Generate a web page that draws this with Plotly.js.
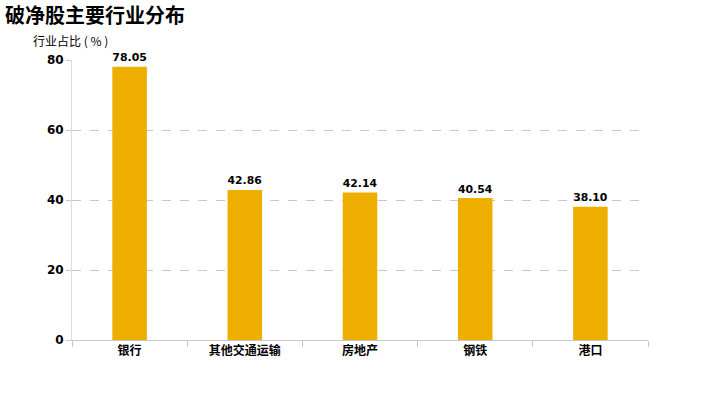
<!DOCTYPE html>
<html><head><meta charset="utf-8">
<script src="https://cdn.plot.ly/plotly-3.0.1.min.js"></script>
<style>body{margin:0}#c{width:720px;height:400px}</style>
</head><body><div id="c"></div>
<script>
const categories = ['银行','其他交通运输','房地产','钢铁','港口'];
const values = [78.05, 42.86, 42.14, 40.54, 38.10];
const yTicks = [0, 20, 40, 60, 80];

const fontFam = 'DejaVu Sans, Noto Sans CJK SC, sans-serif';
const trace = {
  type: 'bar', x: categories, y: values,
  width: 0.3,
  marker: {color: '#EEAF00'},
  text: values.map(v => v.toFixed(2)),
  textposition: 'outside',
  textfont: {family: fontFam, size: 12.5, color: '#000', weight: 'bold'},
  cliponaxis: false,
  hoverinfo: 'none'
};
const layout = {
  width: 720, height: 400,
  margin: {l: 72, r: 72, t: 60, b: 60},
  paper_bgcolor: '#fff', plot_bgcolor: '#fff',
  showlegend: false,
  title: {text: '<b>破净股主要行业分布</b>', x: 0.007, xanchor: 'left', y: 0.96, yanchor: 'middle',
    font: {family: 'Noto Sans CJK SC, sans-serif', size: 20, color: '#000'}},
  xaxis: {
    tickson: 'boundaries', ticks: 'outside', ticklen: 6, tickcolor: '#c8c8c8',
    showline: true, linecolor: '#c8c8c8', linewidth: 1,
    tickfont: {family: 'Noto Sans CJK SC, sans-serif', size: 12, color: '#000', weight: 'bold'},
    showgrid: false
  },
  yaxis: {
    range: [0, 80], tickvals: yTicks,
    ticks: 'outside', ticklen: 5, tickcolor: '#c8c8c8',
    showline: true, linecolor: '#dcdcdc', linewidth: 1,
    showgrid: true, gridcolor: '#c8c8c8', griddash: 'dash', gridwidth: 1,
    zeroline: false,
    tickfont: {family: fontFam, size: 12, color: '#000', weight: 'bold'}
  },
  bargap: 0.7,
  annotations: [{
    text: '行业占比\u00a0(\u00a0%\u00a0)', xref: 'paper', yref: 'paper', x: -0.072, y: 1.07,
    xanchor: 'left', yanchor: 'middle', showarrow: false,
    font: {family: 'Noto Sans CJK SC, sans-serif', size: 12, color: '#000'}
  }]
};
Plotly.newPlot('c', [trace], layout, {staticPlot: true});
</script></body></html>
